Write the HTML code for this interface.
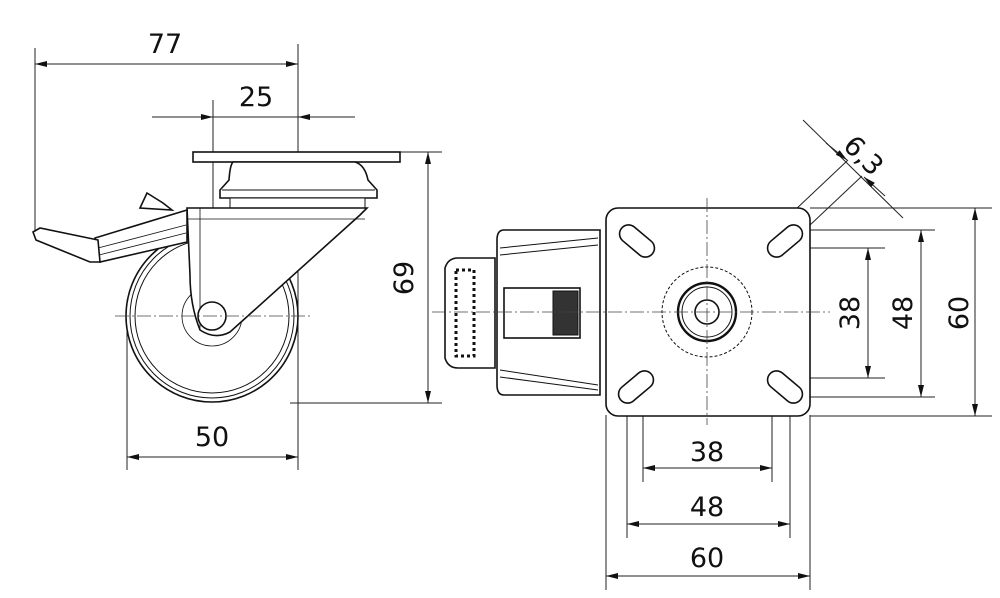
<!DOCTYPE html>
<html><head><meta charset="utf-8"><style>
html,body{margin:0;padding:0;background:#fff;}
svg{display:block;}
text{font-family:"DejaVu Sans","Liberation Sans",sans-serif;font-size:27px;fill:#111;}
</style></head><body>
<svg width="1000" height="598" viewBox="0 0 1000 598" xmlns="http://www.w3.org/2000/svg">
<defs>
<marker id="a" viewBox="0 0 12 6" refX="12" refY="3" markerWidth="12" markerHeight="6" orient="auto-start-reverse" markerUnits="userSpaceOnUse"><path d="M0,0 L12,3 L0,6 z" fill="#111"/></marker>
</defs>
<g stroke="#222" stroke-width="1" fill="none">
<!-- left view extension lines -->
<line x1="35" y1="48" x2="35" y2="232"/>
<line x1="298" y1="44" x2="298" y2="470"/>
<line x1="213" y1="100" x2="213" y2="340"/>
<line x1="127" y1="300" x2="127" y2="470"/>
<line x1="400" y1="152" x2="442" y2="152"/>
<line x1="290" y1="403" x2="442" y2="403"/>
<!-- dims -->
<line x1="35" y1="64" x2="298" y2="64" marker-start="url(#a)" marker-end="url(#a)"/>
<line x1="152" y1="117" x2="213" y2="117" marker-end="url(#a)"/>
<line x1="355" y1="117" x2="298" y2="117" marker-end="url(#a)"/>
<line x1="213" y1="117" x2="298" y2="117"/>
<line x1="428" y1="152" x2="428" y2="403" marker-start="url(#a)" marker-end="url(#a)"/>
<line x1="127" y1="457" x2="298" y2="457" marker-start="url(#a)" marker-end="url(#a)"/>
</g>
<g stroke="#111" stroke-width="1.6" fill="#fff">
<!-- wheel -->
<circle cx="212" cy="316" r="86"/>
<circle cx="212" cy="316" r="82" stroke-width="1"/>
<circle cx="212" cy="316" r="77" stroke-width="1"/>
<circle cx="212" cy="316" r="30" stroke-width="0.8"/>
<!-- plate -->
<rect x="193" y="152" width="207" height="10"/>
<!-- swivel head -->
<path d="M233,162 L355,162 Q365,165 368,180 L377,190 L377,198 L220,198 L220,190 L229,180 Q230,165 233,162 z"/>
<line x1="222" y1="190" x2="375" y2="190" stroke-width="1"/>
<rect x="230" y="198" width="135" height="10" stroke-width="1"/>
<!-- fork -->
<path d="M187,208 L367,208 L360,215 L230,332 Q215,340 200,330 Q190,305 190,275 L187,208 z"/>
<path d="M200,208 L200,330" stroke-width="0.8" fill="none"/>
<line x1="187" y1="219" x2="365" y2="219" stroke-width="0.8"/>
<!-- axle -->
<circle cx="212" cy="316" r="14"/>
<!-- brake pedal -->
<path d="M140,208 L147,193 L163,203 L172,210 z"/>
<path d="M187,210 L95,238 L100,262 L187,242 z"/>
<path d="M33,232 L40,228 L98,240 L100,262 L90,262 L36,240 z"/>
<line x1="98" y1="248" x2="186" y2="225" stroke-width="0.8"/>
<line x1="99" y1="255" x2="186" y2="233" stroke-width="0.8"/>
</g>
<g stroke="#444" stroke-width="0.8" stroke-dasharray="14,3,2,3" fill="none">
<line x1="115" y1="316" x2="310" y2="316"/>
</g>
<text x="165" y="53" text-anchor="middle">77</text>
<text x="256" y="106" text-anchor="middle">25</text>
<text x="212" y="446" text-anchor="middle">50</text>
<text transform="translate(413,278) rotate(-90)" text-anchor="middle">69</text>

<!-- right view -->
<g stroke="#222" stroke-width="1" fill="none">
<line x1="606" y1="415" x2="606" y2="590"/>
<line x1="810" y1="415" x2="810" y2="590"/>
<line x1="627" y1="395" x2="627" y2="538"/>
<line x1="790" y1="395" x2="790" y2="538"/>
<line x1="643" y1="385" x2="643" y2="482"/>
<line x1="772" y1="385" x2="772" y2="482"/>
<line x1="606" y1="576" x2="810" y2="576" marker-start="url(#a)" marker-end="url(#a)"/>
<line x1="627" y1="524" x2="790" y2="524" marker-start="url(#a)" marker-end="url(#a)"/>
<line x1="643" y1="468" x2="772" y2="468" marker-start="url(#a)" marker-end="url(#a)"/>
<line x1="810" y1="208" x2="992" y2="208"/>
<line x1="810" y1="416" x2="992" y2="416"/>
<line x1="795" y1="230" x2="935" y2="230"/>
<line x1="795" y1="397" x2="935" y2="397"/>
<line x1="805" y1="248" x2="885" y2="248"/>
<line x1="805" y1="378" x2="885" y2="378"/>
<line x1="975" y1="208" x2="975" y2="416" marker-start="url(#a)" marker-end="url(#a)"/>
<line x1="921" y1="230" x2="921" y2="397" marker-start="url(#a)" marker-end="url(#a)"/>
<line x1="868" y1="248" x2="868" y2="378" marker-start="url(#a)" marker-end="url(#a)"/>
<!-- 6.3 -->
<line x1="803" y1="120" x2="903" y2="218"/>
<line x1="776" y1="228" x2="848" y2="160"/>
<line x1="792" y1="242" x2="862" y2="176"/>
<line x1="826" y1="143" x2="847" y2="160" marker-end="url(#a)"/>
<line x1="885" y1="196" x2="864" y2="177" marker-end="url(#a)"/>
</g>
<g stroke="#111" stroke-width="1.6" fill="#fff">
<!-- brake housing -->
<path d="M445,268 Q448,258 458,258 L495,258 L495,368 L458,368 Q448,368 445,358 z"/>
<path d="M504,230 L600,230 L600,395 L504,395 Q497,395 497,385 L497,240 Q497,230 504,230 z"/>
<line x1="500" y1="248" x2="598" y2="238" stroke-width="1"/>
<line x1="500" y1="255" x2="598" y2="245" stroke-width="1"/>
<line x1="500" y1="370" x2="598" y2="385" stroke-width="1"/>
<line x1="500" y1="377" x2="598" y2="390" stroke-width="1"/>
<rect x="504" y="288" width="76" height="50"/>
<rect x="553" y="291" width="25" height="44" fill="#333" stroke-width="1"/>
<rect x="456" y="270" width="18" height="86" fill="none" stroke-width="3" stroke-dasharray="3,3"/>
<!-- plate -->
<rect x="606" y="208" width="204" height="208" rx="12"/>
<circle cx="707" cy="312" r="45" stroke-width="1" stroke-dasharray="3,2"/>
<circle cx="707" cy="312" r="29" stroke-width="2.4"/>
<circle cx="707" cy="312" r="25" stroke-width="1"/>
<circle cx="707" cy="312" r="12"/>
<rect x="617" y="232" width="40" height="18" rx="9" transform="rotate(40 637 241)"/>
<rect x="765" y="232" width="40" height="18" rx="9" transform="rotate(-40 785 241)"/>
<rect x="616" y="378" width="40" height="18" rx="9" transform="rotate(-40 636 387)"/>
<rect x="765" y="378" width="40" height="18" rx="9" transform="rotate(40 785 387)"/>
</g>
<g stroke="#444" stroke-width="0.8" stroke-dasharray="14,3,2,3" fill="none">
<line x1="432" y1="312" x2="830" y2="312"/>
<line x1="707" y1="198" x2="707" y2="425"/>
</g>
<text x="707" y="461" text-anchor="middle">38</text>
<text x="707" y="516" text-anchor="middle">48</text>
<text x="707" y="567" text-anchor="middle">60</text>
<text transform="translate(859,313) rotate(-90)" text-anchor="middle">38</text>
<text transform="translate(912,313) rotate(-90)" text-anchor="middle">48</text>
<text transform="translate(968,313) rotate(-90)" text-anchor="middle">60</text>
<text transform="translate(857,162) rotate(45)" text-anchor="middle">6,3</text>
</svg>
</body></html>
